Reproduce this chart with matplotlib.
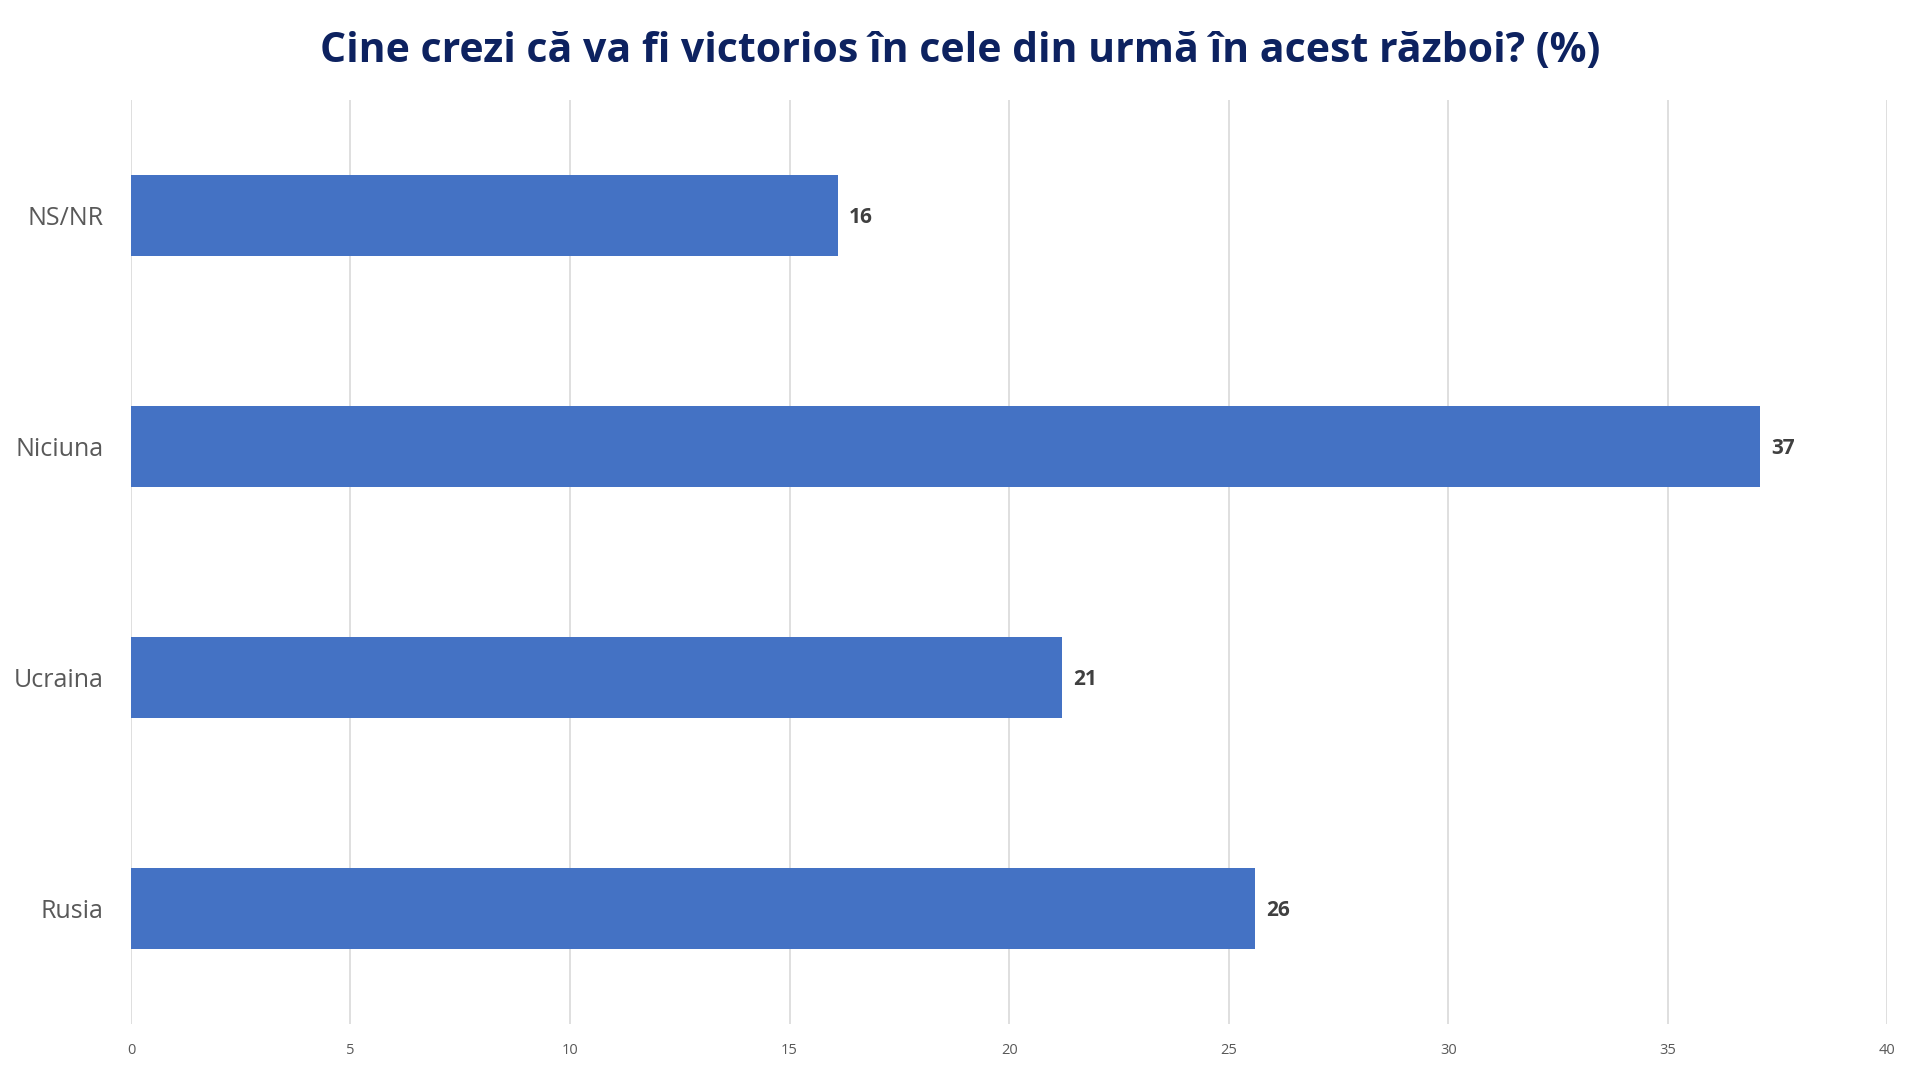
import matplotlib
matplotlib.use("Agg")
import matplotlib.pyplot as plt

# survey answers, bottom to top as drawn
categories = ["Rusia", "Ucraina", "Niciuna", "NS/NR"]
values = [25.6, 21.2, 37.1, 16.1]
labels = ["26", "21", "37", "16"]
xticks = [0, 5, 10, 15, 20, 25, 30, 35, 40]

plt.rcParams['font.family'] = ['Open Sans', 'DejaVu Sans']

fig = plt.figure(figsize=(19.2, 10.73), dpi=100)
ax = fig.add_axes([0.0682, 0.0457, 0.9148, 0.8611])

pos = range(len(categories))
bars = ax.barh(pos, values, height=0.35, color='#4472C4', zorder=3)

for b, lab in zip(bars, labels):
    ax.text(b.get_width() + 0.25, b.get_y() + b.get_height() / 2, lab,
            va='center_baseline', ha='left', fontsize=15, fontweight='bold', color='#404040')

ax.set_xlim(0, 40)
ax.set_ylim(-0.5, 3.5)
ax.set_xticks(xticks)
ax.set_xticklabels([str(x) for x in xticks], fontsize=10.5, color='#595959')
ax.set_yticks(list(pos))
ax.set_yticklabels(categories, fontsize=18, color='#595959')
ax.tick_params(axis='both', length=0)
ax.tick_params(axis='y', pad=20)
ax.tick_params(axis='x', pad=14)
ax.grid(axis='x', color='#D9D9D9', linewidth=1.2, zorder=0)
for s in ax.spines.values():
    s.set_visible(False)

fig.text(0.5, 0.952, "Cine crezi că va fi victorios în cele din urmă în acest război? (%)",
         ha='center', va='center', fontsize=29.5, fontweight='bold', color='#0D2260')

fig.savefig("out.png", dpi=100)
